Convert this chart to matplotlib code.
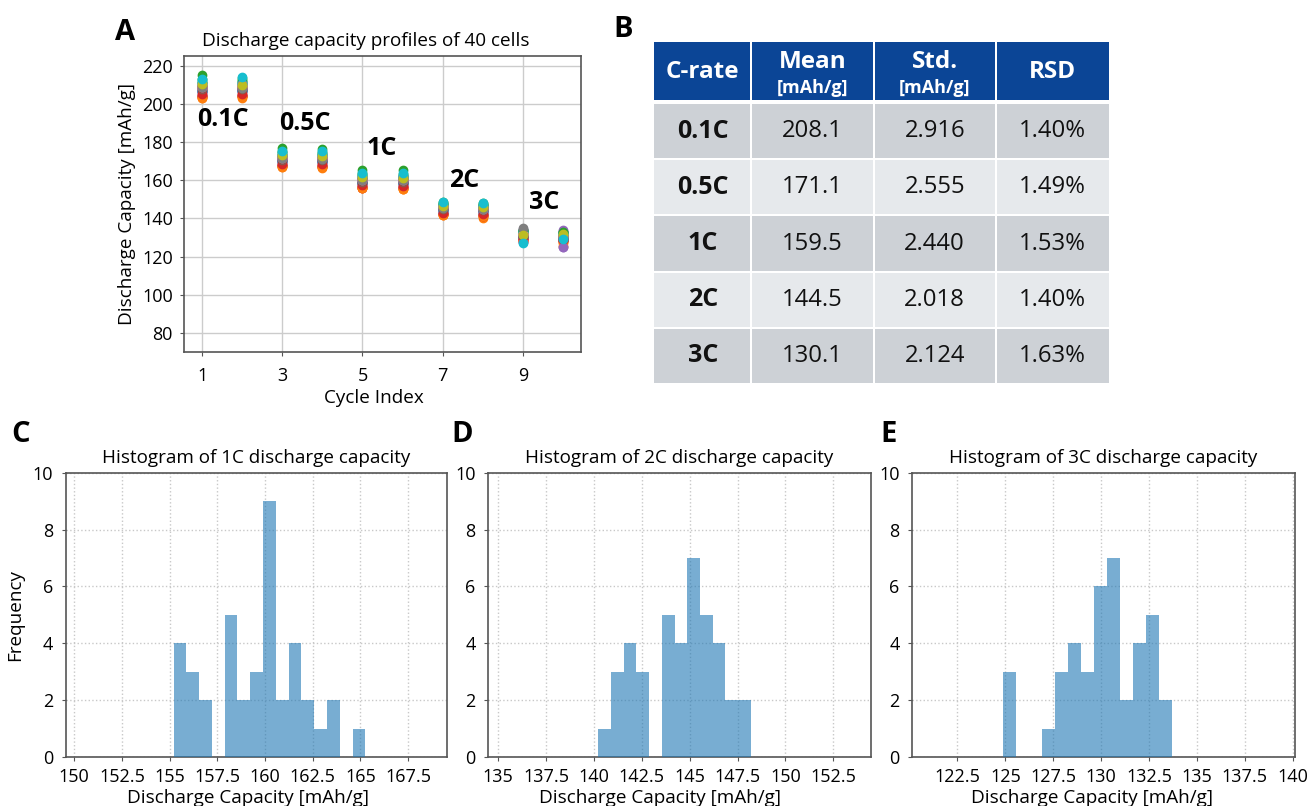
import numpy as np
import matplotlib
matplotlib.use('Agg')
import matplotlib.pyplot as plt
from matplotlib.patches import Rectangle
from matplotlib.ticker import FuncFormatter, MultipleLocator

plt.rcParams['font.family'] = ['Open Sans', 'DejaVu Sans']

# ---------------- data ----------------
cycle_index = [1, 2, 3, 4, 5, 6, 7, 8, 9, 10]

# discharge capacity [mAh/g] of the 40 cells, one list per cycle (cell 0 ... cell 39)
cap_cycle1 = [209.2, 203.5, 211.0, 204.8, 204.4, 209.9, 208.6, 206.9, 209.1, 212.2,
              207.2, 203.9, 211.6, 204.1, 209.5, 208.8, 208.2, 206.7, 209.1, 210.7,
              206.4, 203.2, 212.8, 203.7, 206.2, 209.0, 208.5, 207.9, 209.3, 211.2,
              206.6, 203.0, 215.0, 205.1, 210.5, 207.5, 208.9, 208.7, 210.3, 213.2]
cap_cycle2 = [209.0, 203.8, 210.6, 204.9, 204.6, 209.6, 208.3, 207.1, 208.8, 211.8,
              207.4, 204.0, 211.3, 204.3, 209.8, 208.5, 208.0, 206.9, 208.9, 210.4,
              206.6, 203.4, 212.4, 203.9, 206.5, 208.7, 208.2, 207.7, 209.1, 210.9,
              206.8, 203.2, 213.6, 205.3, 210.2, 207.6, 208.6, 208.4, 210.0, 214.2]
cap_cycle3 = [172.0, 167.3, 173.4, 168.3, 168.1, 172.6, 171.5, 170.1, 171.9, 174.5,
              170.3, 167.6, 174.0, 167.8, 172.3, 171.7, 171.2, 170.0, 172.0, 173.2,
              169.7, 167.0, 175.0, 167.4, 169.6, 171.8, 171.4, 171.0, 172.1, 173.7,
              169.9, 166.9, 176.8, 168.6, 173.1, 170.6, 171.7, 171.6, 172.9, 175.4]
cap_cycle4 = [171.8, 167.0, 173.1, 168.0, 167.9, 172.3, 171.2, 169.9, 171.6, 174.2,
              170.0, 167.3, 173.7, 167.5, 172.0, 171.4, 170.9, 169.8, 171.7, 172.9,
              169.4, 166.8, 174.7, 167.1, 169.3, 171.5, 171.1, 170.7, 171.8, 173.4,
              169.6, 166.6, 176.5, 168.3, 172.8, 170.3, 171.4, 171.3, 172.6, 175.2]
cap_cycle5 = [160.6, 156.0, 162.0, 157.0, 156.7, 161.2, 160.1, 158.7, 160.5, 163.0,
              158.9, 156.3, 162.5, 156.5, 160.9, 160.3, 159.8, 158.6, 160.5, 161.8,
              158.3, 155.9, 163.5, 156.1, 158.2, 160.4, 160.0, 159.6, 160.7, 162.3,
              158.5, 155.7, 165.3, 157.3, 161.7, 159.2, 160.3, 160.2, 161.5, 163.9]
cap_cycle6 = [160.45, 155.6, 161.85, 156.7, 156.45, 161.0, 159.95, 158.5, 160.3, 162.9,
              158.7, 155.95, 162.4, 156.2, 160.7, 160.1, 159.55, 158.35, 160.35, 161.65,
              158.1, 155.45, 163.4, 155.8, 157.95, 160.2, 159.8, 159.35, 160.5, 162.1,
              158.25, 155.21, 165.26, 157.0, 161.5, 159.0, 160.15, 160.0, 161.3, 163.75]
cap_cycle7 = [146.0, 141.9, 147.0, 142.8, 142.6, 146.5, 145.3, 144.5, 145.9, 147.6,
              144.6, 142.3, 147.3, 142.4, 146.4, 145.6, 145.0, 144.4, 145.9, 146.9,
              143.3, 141.8, 147.9, 142.1, 143.1, 145.8, 145.2, 144.9, 146.2, 147.1,
              144.3, 141.7, 148.5, 143.0, 146.7, 144.7, 145.7, 145.5, 146.6, 148.8]
cap_cycle8 = [145.45, 141.2, 146.45, 142.1, 141.95, 145.9, 144.75, 143.9, 145.3, 147.0,
              144.0, 141.65, 146.75, 141.8, 145.8, 145.05, 144.45, 143.8, 145.35, 146.3,
              142.75, 140.23, 147.3, 141.45, 142.55, 145.2, 144.6, 144.3, 145.65, 146.6,
              143.65, 141.0, 147.8, 142.35, 146.1, 144.1, 145.1, 144.95, 146.0, 148.2]
cap_cycle9 = [132.1, 128.6, 133.2, 129.5, 127.6, 132.7, 131.4, 130.6, 131.8, 133.6,
              130.8, 129.2, 133.5, 129.3, 133.9, 131.6, 131.1, 130.5, 131.9, 133.0,
              129.8, 127.9, 133.8, 128.9, 134.2, 131.7, 131.2, 131.0, 132.4, 133.4,
              130.3, 128.3, 133.7, 129.7, 127.5, 130.9, 131.6, 135.0, 131.5, 127.2]
cap_cycle10 = [131.2, 127.7, 132.3, 128.55, 125.1, 131.8, 130.4, 129.7, 130.85, 132.75,
               129.85, 128.2, 132.6, 128.4, 133.3, 130.6, 130.15, 129.5, 130.95, 132.1,
               128.85, 125.35, 132.85, 127.95, 133.73, 130.75, 130.25, 130.05, 131.5, 132.45,
               129.3, 127.3, 132.98, 128.7, 124.88, 129.95, 130.7, 130.5, 131.95, 129.1]

rate_labels = ['0.1C', '0.5C', '1C', '2C', '3C']
table_mean = ['208.1', '171.1', '159.5', '144.5', '130.1']
table_std = ['2.916', '2.555', '2.440', '2.018', '2.124']
table_rsd = ['1.40%', '1.49%', '1.53%', '1.40%', '1.63%']

hist_rates = ['1C', '2C', '3C']
hist_data = [cap_cycle6, cap_cycle8, cap_cycle10]
hist_bins = [15, 12, 13]

# ---------------- figure ----------------
W, H = 1311, 806
fig = plt.figure(figsize=(W / 100, H / 100), dpi=100)

def px_axes(x0, y0, x1, y1):
    return fig.add_axes([x0 / W, 1 - y1 / H, (x1 - x0) / W, (y1 - y0) / H])

spine_col = '#555555'
tick_fs = 13
lab_fs = 13.6

# ---- panel A ----
axA = px_axes(184, 56, 581, 352)
caps = np.array([cap_cycle1, cap_cycle2, cap_cycle3, cap_cycle4, cap_cycle5,
                 cap_cycle6, cap_cycle7, cap_cycle8, cap_cycle9, cap_cycle10])
for i in range(caps.shape[1]):
    axA.plot(cycle_index, caps[:, i], 'o', color=f'C{i % 10}', ms=6, zorder=3)
axA.set_ylim(70, 225)
axA.set_xticks([1, 3, 5, 7, 9])
axA.set_yticks([80, 100, 120, 140, 160, 180, 200, 220])
axA.grid(True, color='#cccccc', lw=1.0)
axA.set_axisbelow(True)
axA.set_title('Discharge capacity profiles of 40 cells', fontsize=lab_fs, x=0.458, pad=7)
axA.set_xlabel('Cycle Index', fontsize=lab_fs, x=0.478, labelpad=3)
axA.set_ylabel('Discharge Capacity [mAh/g]', fontsize=lab_fs, labelpad=4)
axA.tick_params(axis='both', labelsize=tick_fs, length=3, color=spine_col)
axA.tick_params(axis='x', pad=8)
axA.tick_params(axis='y', pad=5)
for s in axA.spines.values():
    s.set_color(spine_col); s.set_linewidth(1.2)
ann_pos = [(1.53, 191.5), (3.56, 189.9), (5.47, 176.8), (7.54, 159.6), (9.53, 148.3)]
for lab, (x, y) in zip(rate_labels, ann_pos):
    axA.text(x, y, lab, fontsize=18, fontweight='bold', ha='center', va='center', zorder=4)

# ---- panel B (table) ----
axT = px_axes(654, 41.7, 1109, 382.7)
axT.set_xlim(0, 455)
axT.set_ylim(341, 0)
axT.axis('off')
col_w = [97.4, 122.3, 122.0, 113.3]
col_x = np.concatenate([[0], np.cumsum(col_w)])
header_h, row_h, row_gap, head_gap = 58.3, 54.2, 2.0, 4.0
header_col = '#0B4596'
row_cols = ['#CDD1D6', '#E6E9EC']
for j in range(4):
    x0 = col_x[j] + (1 if j > 0 else 0)
    x1 = col_x[j + 1] - (1 if j < 3 else 0)
    axT.add_patch(Rectangle((x0, 0), x1 - x0, header_h, color=header_col, lw=0))
    for i in range(len(rate_labels)):
        y0 = header_h + head_gap + i * (row_h + row_gap)
        axT.add_patch(Rectangle((x0, y0), x1 - x0, row_h, color=row_cols[i % 2], lw=0))
cx = (col_x[:-1] + col_x[1:]) / 2
hdr_fs, unit_fs, cell_fs = 17.5, 13, 17.2
axT.text(cx[0], 30, 'C-rate', color='white', fontsize=hdr_fs, fontweight='bold', ha='center', va='center')
axT.text(cx[1], 20, 'Mean', color='white', fontsize=hdr_fs, fontweight='bold', ha='center', va='center')
axT.text(cx[1], 46.5, '[mAh/g]', color='white', fontsize=unit_fs, fontweight='bold', ha='center', va='center')
axT.text(cx[2], 20, 'Std.', color='white', fontsize=hdr_fs, fontweight='bold', ha='center', va='center')
axT.text(cx[2], 46.5, '[mAh/g]', color='white', fontsize=unit_fs, fontweight='bold', ha='center', va='center')
axT.text(cx[3], 30, 'RSD', color='white', fontsize=hdr_fs, fontweight='bold', ha='center', va='center')
for i, (r, m, s, d) in enumerate(zip(rate_labels, table_mean, table_std, table_rsd)):
    yc = header_h + head_gap + i * (row_h + row_gap) + row_h / 2
    axT.text(cx[0], yc, r, fontsize=18, fontweight='bold', ha='center', va='center', color='#111111')
    for j, v in enumerate([m, s, d]):
        axT.text(cx[j + 1], yc, v, fontsize=cell_fs, ha='center', va='center', color='#111111')

# ---- panels C, D, E (histograms) ----
hist_boxes = [(65.5, 447), (488, 871), (912, 1295)]
xlab_pos = [0.478, 0.45, 0.469]
fmt = FuncFormatter(lambda v, p: f'{v:g}')
for k, (rate, data, nb) in enumerate(zip(hist_rates, hist_data, hist_bins)):
    x0, x1 = hist_boxes[k]
    ax = px_axes(x0, 472.7, x1, 757)
    ax.hist(data, bins=nb, color='C0', alpha=0.6, lw=0, zorder=3)
    mu = np.mean(data)
    ax.set_xlim(mu - 10, mu + 10)
    ax.set_ylim(0, 10)
    ax.xaxis.set_major_locator(MultipleLocator(2.5))
    ax.xaxis.set_major_formatter(fmt)
    ax.set_yticks([0, 2, 4, 6, 8, 10])
    ax.grid(True, ls=':', color='#c8c8c8', lw=1.0)
    ax.set_axisbelow(True)
    ax.set_title(f'Histogram of {rate} discharge capacity', fontsize=lab_fs, pad=7)
    ax.set_xlabel('Discharge Capacity [mAh/g]', fontsize=lab_fs, x=xlab_pos[k], labelpad=2)
    if k == 0:
        ax.set_ylabel('Frequency', fontsize=lab_fs, labelpad=6)
    ax.tick_params(axis='both', labelsize=tick_fs, length=3, color=spine_col)
    ax.tick_params(axis='x', pad=5)
    ax.tick_params(axis='y', pad=6)
    for s in ax.spines.values():
        s.set_color(spine_col); s.set_linewidth(1.2)

# ---- panel letters ----
for lab, (x, y) in zip('ABCDE', [(115, 40), (613, 37), (11, 441.7), (451, 441.7), (880, 441.7)]):
    fig.text(x / W, 1 - y / H, lab, fontsize=21, fontweight='bold', ha='left', va='baseline')

fig.savefig('out.png', dpi=100)
